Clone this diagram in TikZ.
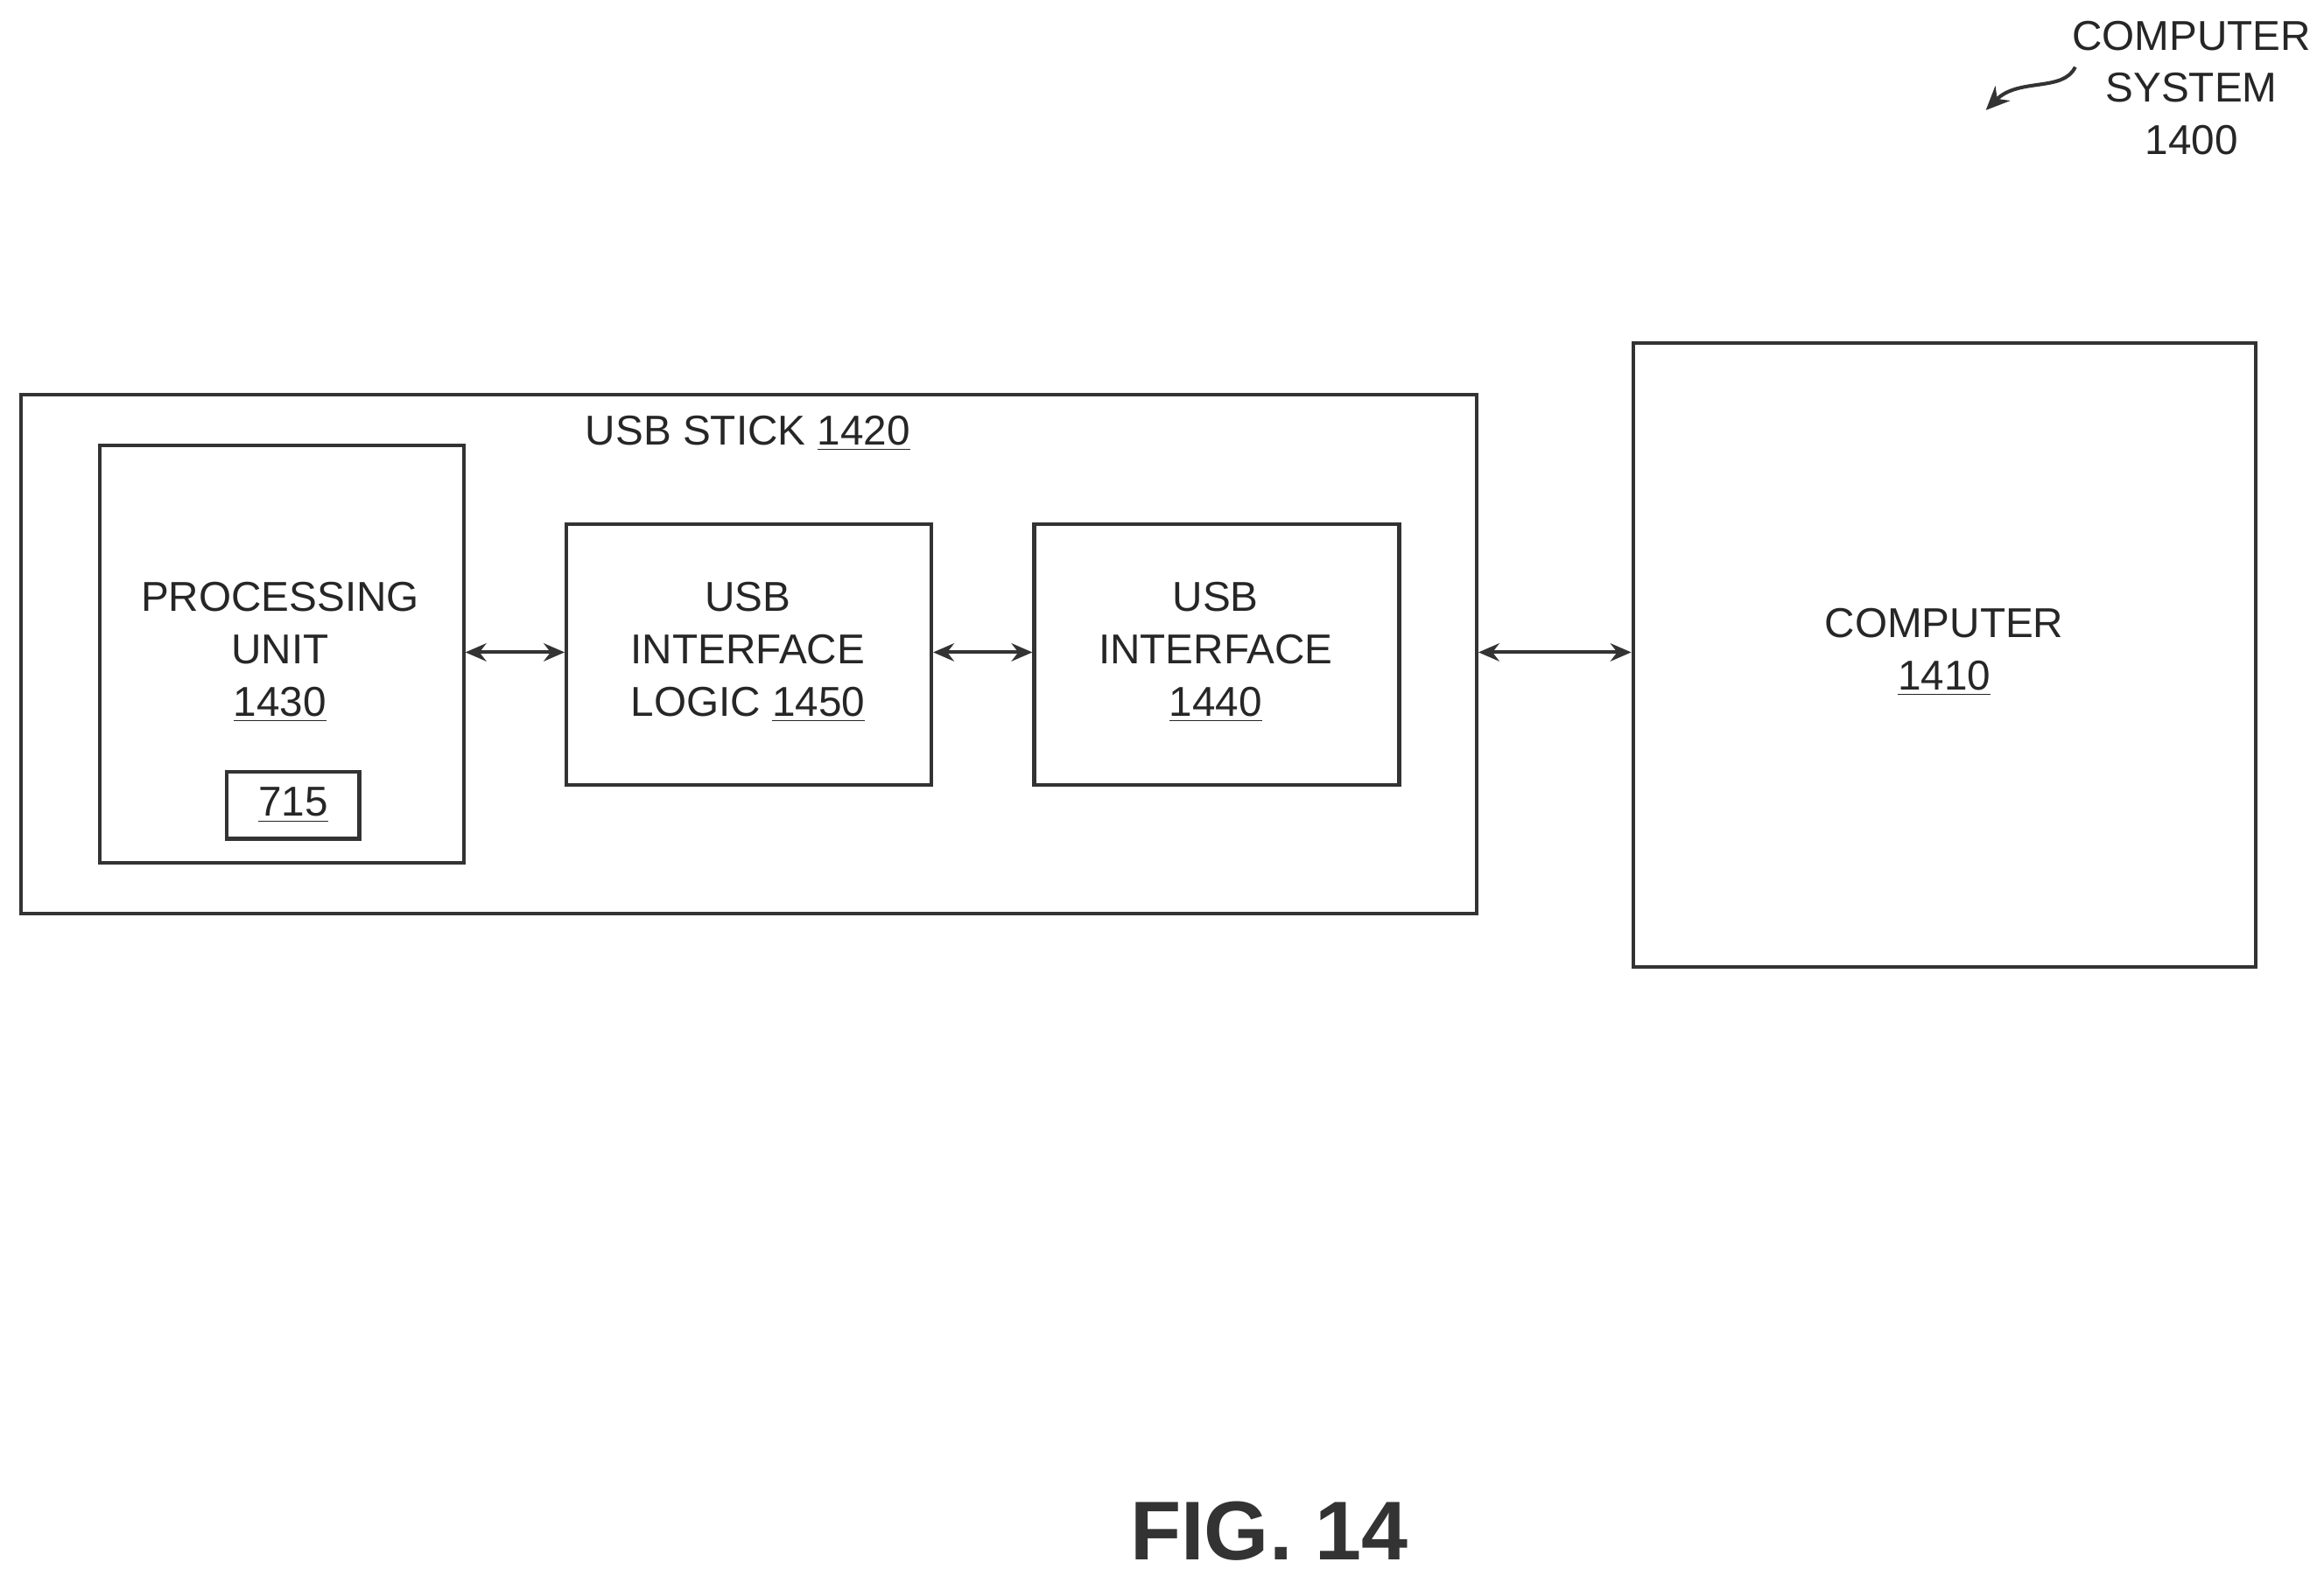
\documentclass[tikz,border=0pt]{standalone}
\usepackage{fontspec}
\setmainfont{Liberation Sans}
\usetikzlibrary{arrows.meta}
\begin{document}
\begin{tikzpicture}[x=0.5pt,y=-0.5pt,
  box/.style={draw=black!80,line width=1.2pt},
  lbl/.style={align=center,font=\fontsize{14}{17.5}\selectfont,text=black!85},
  arr/.style={{Stealth[length=7pt,width=6pt]}-{Stealth[length=7pt,width=6pt]},line width=1.2pt,draw=black!80}]
\useasboundingbox (0,0) rectangle (1560,1058);
\node[box,minimum width=488.5pt,minimum height=174pt,inner sep=0,anchor=north west] (stick) at (13,264) {};
\node[lbl] (stickl) at (502,291) {USB STICK \underline{1420}};
\node[box,minimum width=122pt,minimum height=140pt,inner sep=0,anchor=north west] (pu) at (66,298) {};
\node[lbl] (pul) at (188,438) {PROCESSING\\UNIT\\\underline{1430}};
\node[box,minimum width=44.5pt,minimum height=22.5pt,inner sep=0,anchor=north west,lbl] (b715) at (151,517) {\underline{715}};
\node[box,minimum width=122.5pt,minimum height=87.5pt,inner sep=0,anchor=north west] (uil) at (379,351) {};
\node[lbl] (uill) at (502,438) {USB\\INTERFACE\\LOGIC \underline{1450}};
\node[box,minimum width=122.5pt,minimum height=87.5pt,inner sep=0,anchor=north west] (ui) at (693,351) {};
\node[lbl] (uil2) at (816,438) {USB\\INTERFACE\\\underline{1440}};
\node[box,minimum width=209pt,minimum height=209.5pt,inner sep=0,anchor=north west] (comp) at (1095,229) {};
\node[lbl] (compl) at (1305,438) {COMPUTER\\\underline{1410}};
\draw[arr] (pu.east |- 0,438) -- (uil.west |- 0,438);
\draw[arr] (uil.east |- 0,438) -- (ui.west |- 0,438);
\draw[arr] (stick.east |- 0,438) -- (comp.west |- 0,438);
\node[lbl] (sys) at (1471,59) {COMPUTER\\SYSTEM\\1400};
\coordinate (s1) at (1393,45);
\coordinate (s2) at (1333,74);
\draw[line width=1.2pt,draw=black!80,-{Stealth[length=8pt,width=7pt]}] (s1) .. controls (1385,62) and (1355,52) .. (s2);
\node[font=\bfseries\fontsize{28}{34}\selectfont,text=black!80] (fig) at (852,1028) {FIG. 14};
\end{tikzpicture}
\end{document}
